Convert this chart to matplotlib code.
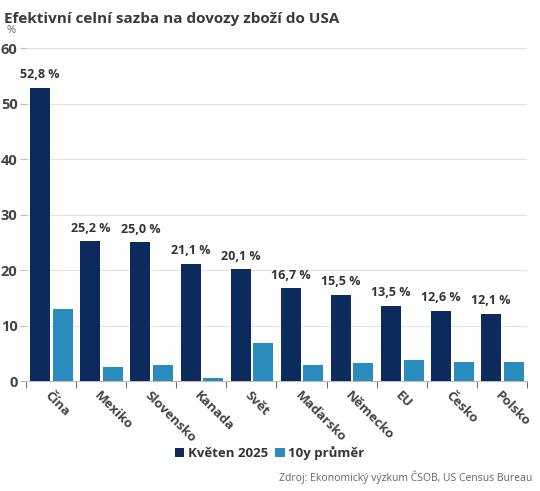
import matplotlib as mpl
mpl.use('Agg')
import matplotlib.pyplot as plt
import numpy as np

# data
countries = ['Čína', 'Mexiko', 'Slovensko', 'Kanada', 'Svět', 'Maďarsko',
             'Německo', 'EU', 'Česko', 'Polsko']
may_2025 = [52.8, 25.2, 25.0, 21.1, 20.1, 16.7, 15.5, 13.5, 12.6, 12.1]
avg_10y = [13.0, 2.5, 2.8, 0.6, 6.9, 2.9, 3.3, 3.8, 3.4, 3.45]
yticks = [0, 10, 20, 30, 40, 50, 60]

dark = '#0c2b5c'
light = '#2a8cbd'
txt = '#444444'

plt.rcParams['font.family'] = ['Open Sans', 'DejaVu Sans']

fig = plt.figure(figsize=(5.4, 4.91), dpi=100)
ax = fig.add_axes([0.048, 0.224, 0.928, 0.678])

x = np.arange(len(countries))
bw = 0.40
ax.bar(x - 0.215, may_2025, bw, color=dark, label='Květen 2025', zorder=3)
ax.bar(x + 0.235, avg_10y, bw, color=light, label='10y průměr', zorder=3)

for xi, v in zip(x, may_2025):
    ax.text(xi - 0.215, v + 1.2, ('%.1f %%' % v).replace('.', ','), ha='center', va='bottom',
            fontsize=9, fontweight='bold', color='#333333')

ax.set_xlim(-0.5, len(countries) - 0.5)
ax.set_ylim(0, 60)
ax.set_yticks(yticks)
ax.set_yticklabels([str(t) for t in yticks], fontsize=10.5, fontweight='bold', color=txt)
ax.yaxis.grid(True, color='#e3e3e3', linewidth=0.8, zorder=0)
ax.tick_params(axis='y', length=4, color='#bbbbbb', pad=2)

ax.set_xticks(x)
ax.set_xticklabels(countries, rotation=-45, ha='left', va='top', rotation_mode='anchor',
                   fontsize=9.5, fontweight='bold', color=txt)
ax.tick_params(axis='x', which='major', length=0, pad=6)
ax.set_xticks(np.arange(len(countries) + 1) - 0.5, minor=True)
ax.tick_params(axis='x', which='minor', length=5, color='#555555')

for s in ['top', 'right', 'left']:
    ax.spines[s].set_visible(False)
ax.spines['bottom'].set_color('#bbbbbb')

fig.text(0.008, 0.975, 'Efektivní celní sazba na dovozy zboží do USA', fontsize=11,
         fontweight='bold', color='#3a3a3a', va='top')
fig.text(0.012, 0.937, '%', fontsize=8, color='#666666', va='center')

fig.legend(loc='center', bbox_to_anchor=(0.5, 0.077), ncol=2, frameon=False,
           handlelength=0.7, handleheight=0.7, handletextpad=0.3, columnspacing=0.5,
           prop={'weight': 'bold', 'size': 9.5}, labelcolor='#333333')

fig.text(0.985, 0.027, 'Zdroj: Ekonomický výzkum ČSOB, US Census Bureau', fontsize=7.5,
         color='#666666', ha='right', va='center')

fig.savefig('out.png', dpi=100)
